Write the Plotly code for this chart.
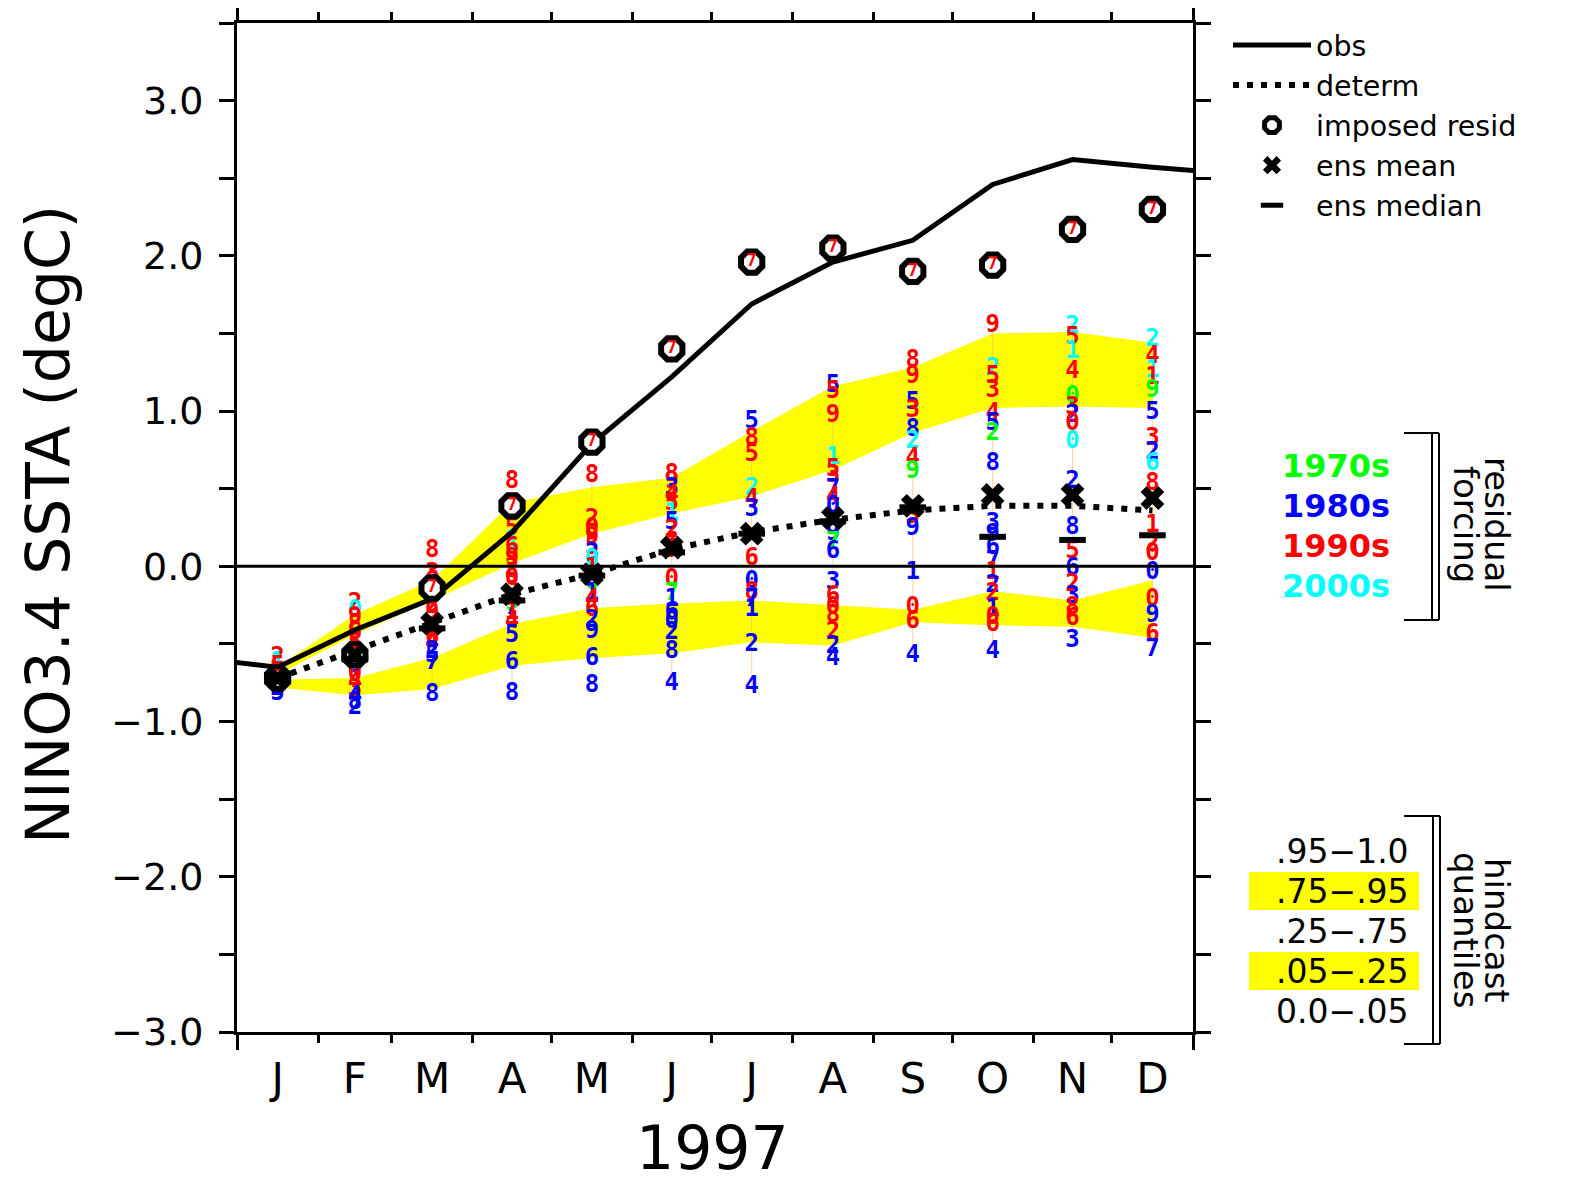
import plotly.graph_objects as go

# ---------------- data ----------------
month_labels = ["J", "F", "M", "A", "M", "J", "J", "A", "S", "O", "N", "D"]
mid_dates = ["1997-01-16 12:00", "1997-02-15", "1997-03-16 12:00", "1997-04-16",
             "1997-05-16 12:00", "1997-06-16", "1997-07-16 12:00", "1997-08-16 12:00",
             "1997-09-16", "1997-10-16 12:00", "1997-11-16", "1997-12-16 12:00"]
month_starts = ["1997-02-01", "1997-03-01", "1997-04-01", "1997-05-01", "1997-06-01",
                "1997-07-01", "1997-08-01", "1997-09-01", "1997-10-01", "1997-11-01",
                "1997-12-01"]
year_edges = ["1997-01-01", "1998-01-01"]

obs_dates = ["1996-12-16 12:00"] + mid_dates + ["1998-01-16 12:00"]
obs = [-0.59, -0.65, -0.41, -0.21, 0.22, 0.79, 1.22, 1.69, 1.96, 2.10, 2.46, 2.62, 2.57, 2.53]
determ = [-0.72, -0.54, -0.37, -0.18, -0.05, 0.11, 0.22, 0.30, 0.36, 0.39, 0.39, 0.36]
imposed = [-0.72, -0.57, -0.14, 0.39, 0.80, 1.40, 1.96, 2.05, 1.90, 1.94, 2.17, 2.30]
ens_mean = [-0.72, -0.57, -0.37, -0.18, -0.05, 0.12, 0.21, 0.31, 0.39, 0.46, 0.46, 0.44]
ens_median = [-0.72, -0.60, -0.40, -0.22, -0.06, 0.09, 0.21, 0.29, 0.38, 0.19, 0.17, 0.20]

q95 = [-0.65, -0.31, -0.09, 0.41, 0.51, 0.57, 0.87, 1.16, 1.28, 1.50, 1.51, 1.44]
q75 = [-0.70, -0.44, -0.22, 0.02, 0.21, 0.34, 0.45, 0.62, 0.86, 1.02, 1.03, 1.02]
q25 = [-0.73, -0.72, -0.59, -0.37, -0.27, -0.24, -0.22, -0.25, -0.28, -0.16, -0.22, -0.09]
q05 = [-0.78, -0.83, -0.79, -0.64, -0.59, -0.56, -0.49, -0.51, -0.36, -0.38, -0.39, -0.46]

# ensemble members (value, residual-forcing year) per month
jan_v = [-0.59, -0.62, -0.65, -0.70, -0.72, -0.75, -0.77, -0.79, -0.82]
jan_y = [1992, 2001, 1995, 1990, 1988, 1993, 1991, 1982, 1985]
feb_v = [-0.24, -0.29, -0.33, -0.38, -0.43, -0.50, -0.56, -0.64, -0.70, -0.75, -0.80, -0.84, -0.88, -0.91]
feb_y = [1992, 2000, 1999, 1998, 1996, 1995, 1991, 1983, 1990, 1994, 1993, 1984, 1988, 1982]
mar_v = [0.10, -0.05, -0.10, -0.13, -0.18, -0.26, -0.30, -0.40, -0.46, -0.50, -0.55, -0.58, -0.62, -0.83]
mar_y = [1998, 1993, 1990, 1986, 1995, 1992, 1999, 1991, 1996, 1994, 1982, 1985, 1987, 1988]
apr_v = [0.54, 0.24, 0.16, 0.12, 0.05, -0.02, -0.08, -0.13, -0.24, -0.27, -0.30, -0.36, -0.45, -0.62, -0.82]
apr_y = [1998, 1995, 2001, 1996, 1999, 1992, 1990, 1993, 1979, 1987, 1991, 1994, 1985, 1986, 1988]
may_v = [0.58, 0.30, 0.24, 0.18, 0.12, 0.08, 0.04, -0.02, -0.11, -0.18, -0.22, -0.28, -0.35, -0.42, -0.60, -0.77]
may_y = [1998, 1992, 1990, 1999, 1995, 1983, 2000, 1991, 1976, 1981, 1994, 1996, 1982, 1989, 1986, 1988]
jun_v = [0.59, 0.54, 0.50, 0.45, 0.40, 0.34, 0.28, 0.23, 0.15, 0.10, -0.09, -0.18, -0.22, -0.30, -0.36, -0.43, -0.55, -0.76]
jun_y = [1998, 1999, 1983, 1994, 1995, 2001, 1985, 1992, 1996, 1993, 1990, 1977, 1981, 1986, 1980, 1982, 1988, 1984]
jul_v = [0.93, 0.82, 0.72, 0.50, 0.43, 0.36, 0.05, -0.10, -0.17, -0.22, -0.28, -0.51, -0.78]
jul_y = [1985, 1998, 1995, 2002, 1994, 1983, 1996, 1980, 1998, 1987, 1981, 1982, 1984]
aug_v = [1.16, 1.12, 0.97, 0.70, 0.62, 0.58, 0.49, 0.44, 0.38, 0.21, 0.15, 0.09, -0.11, -0.20, -0.27, -0.32, -0.43, -0.52, -0.60]
aug_y = [1985, 1995, 1999, 2001, 1995, 1993, 1987, 1994, 1980, 1989, 1977, 1986, 1983, 1996, 1990, 1998, 1992, 1982, 1984]
sep_v = [1.32, 1.22, 1.05, 1.00, 0.88, 0.80, 0.69, 0.61, 0.32, 0.24, -0.04, -0.27, -0.36, -0.58]
sep_y = [1998, 1999, 1985, 1993, 1988, 2002, 1994, 1979, 1993, 1989, 1981, 1990, 1996, 1984]
oct_v = [1.55, 1.27, 1.22, 1.13, 0.98, 0.92, 0.85, 0.66, 0.27, 0.20, 0.12, 0.03, -0.04, -0.13, -0.18, -0.28, -0.33, -0.38, -0.55]
oct_y = [1999, 2002, 1995, 1993, 1994, 1985, 1972, 1988, 1983, 1989, 1986, 1987, 1991, 1982, 1992, 1981, 1990, 1996, 1984]
nov_v = [1.54, 1.47, 1.38, 1.25, 1.09, 1.02, 0.97, 0.92, 0.80, 0.54, 0.25, 0.09, -0.02, -0.12, -0.20, -0.27, -0.34, -0.48]
nov_y = [2002, 1995, 2001, 1994, 1970, 1993, 1982, 1990, 2000, 1982, 1988, 1995, 1986, 1992, 1983, 1998, 1996, 1983]
dec_v = [1.46, 1.35, 1.26, 1.21, 1.13, 0.99, 0.82, 0.73, 0.66, 0.53, 0.26, 0.14, 0.08, -0.04, -0.22, -0.32, -0.44, -0.54]
dec_y = [2002, 1994, 2001, 1991, 1979, 1985, 1993, 1982, 2006, 1998, 1991, 1992, 1990, 1980, 1990, 1989, 1996, 1987]

member_vals = [jan_v, feb_v, mar_v, apr_v, may_v, jun_v, jul_v, aug_v, sep_v, oct_v, nov_v, dec_v]
member_years = [jan_y, feb_y, mar_y, apr_y, may_y, jun_y, jul_y, aug_y, sep_y, oct_y, nov_y, dec_y]

decades = ["1970s", "1980s", "1990s", "2000s"]
decade_colors = ["#00ff00", "#0000ff", "#ff0000", "#00ffff"]
imposed_year = 1997

y_tickvals = [-3.0, -2.5, -2.0, -1.5, -1.0, -0.5, 0.0, 0.5, 1.0, 1.5, 2.0, 2.5, 3.0, 3.5]
y_ticktext = ["\u22123.0", "", "\u22122.0", "", "\u22121.0", "", "0.0", "", "1.0", "", "2.0", "", "3.0", ""]
quantile_labels = [".95\u22121.0", ".75\u2212.95", ".25\u2212.75", ".05\u2212.25", "0.0\u2212.05"]
quantile_highlight = [False, True, False, True, False]

# ---------------- layout helpers ----------------
OFF = 8                      # page body margin
W, H = 1589 - 2 * OFF, 1183 - 2 * OFF
L, R, T, B = 237 - OFF, 1193 - OFF, 23 - OFF, 1032 - OFF
FONT = "DejaVu Sans"


def fx(px):
    return (px - OFF - L) / (R - L)


def fy(py):
    return (B - (py - OFF)) / (B - T)


def decade_color(year):
    return decade_colors[(year // 10 - 197)]


fig = go.Figure()

# yellow quantile bands
fig.add_trace(go.Scatter(x=mid_dates, y=q75, mode="lines", line=dict(width=0, color="#ffff00"),
                         showlegend=False, hoverinfo="skip"))
fig.add_trace(go.Scatter(x=mid_dates, y=q95, mode="lines", line=dict(width=0, color="#ffff00"),
                         fill="tonexty", fillcolor="#ffff00", showlegend=False, hoverinfo="skip"))
fig.add_trace(go.Scatter(x=mid_dates, y=q05, mode="lines", line=dict(width=0, color="#ffff00"),
                         showlegend=False, hoverinfo="skip"))
fig.add_trace(go.Scatter(x=mid_dates, y=q25, mode="lines", line=dict(width=0, color="#ffff00"),
                         fill="tonexty", fillcolor="#ffff00", showlegend=False, hoverinfo="skip"))

# faint connector through each month's ensemble spread
for d, vals in zip(mid_dates, member_vals):
    fig.add_trace(go.Scatter(x=[d, d], y=[max(vals), min(vals)], mode="lines",
                             line=dict(color="rgba(255,190,120,0.7)", width=1),
                             showlegend=False, hoverinfo="skip"))

# ensemble member digits
for d, vals, yrs in zip(mid_dates, member_vals, member_years):
    fig.add_trace(go.Scatter(
        x=[d] * len(vals), y=vals, mode="text",
        text=[str(yr % 10) for yr in yrs],
        textposition="middle center",
        textfont=dict(family="DejaVu Sans Mono", size=24, weight="bold",
                      color=[decade_color(yr) for yr in yrs]),
        showlegend=False, hoverinfo="skip"))

# legend + main lines
fig.add_trace(go.Scatter(x=obs_dates, y=obs, mode="lines", name="obs",
                         line=dict(color="black", width=5)))
fig.add_trace(go.Scatter(x=mid_dates, y=determ, mode="lines", name="determ",
                         line=dict(color="black", width=6, dash="6px,8px")))
fig.add_trace(go.Scatter(x=mid_dates, y=imposed, mode="markers", name="imposed resid",
                         marker=dict(symbol="octagon", size=23, color="white",
                                     line=dict(color="black", width=6))))
fig.add_trace(go.Scatter(x=mid_dates, y=imposed, mode="text",
                         text=[str(imposed_year % 10)] * len(imposed),
                         textfont=dict(family="DejaVu Sans Mono", size=17, weight="bold",
                                       color=decade_color(imposed_year)),
                         showlegend=False, hoverinfo="skip"))
fig.add_trace(go.Scatter(x=mid_dates, y=ens_mean, mode="markers", name="ens mean",
                         marker=dict(symbol="x", size=21, color="black", line=dict(width=0))))
fig.add_trace(go.Scatter(x=mid_dates, y=ens_median, mode="markers", name="ens median",
                         marker=dict(symbol="line-ew", size=19, color="black",
                                     line=dict(color="black", width=6))))

# invisible trace to activate the month-label axis
fig.add_trace(go.Scatter(x=mid_dates, y=ens_mean, xaxis="x2", mode="markers",
                         marker=dict(opacity=0), showlegend=False, hoverinfo="skip"))

shapes = []
# zero line
shapes.append(dict(type="line", xref="paper", yref="y", x0=0, x1=1, y0=0, y1=0,
                   line=dict(color="black", width=3), layer="above"))


def bracket(top, bottom, xa, xv1, xv2):
    out = []
    for yy in (top, bottom):
        out.append(dict(type="line", xref="paper", yref="paper", x0=fx(xa), x1=fx(xv2),
                        y0=fy(yy), y1=fy(yy), line=dict(color="black", width=2)))
    for xv in (xv1, xv2):
        out.append(dict(type="line", xref="paper", yref="paper", x0=fx(xv), x1=fx(xv),
                        y0=fy(top), y1=fy(bottom), line=dict(color="black", width=2)))
    return out


shapes += bracket(433, 620, 1404, 1432, 1439)
shapes += bracket(816, 1044, 1404, 1433, 1440)

annotations = []
# decade labels
for i, (lab, col) in enumerate(zip(decades, decade_colors)):
    annotations.append(dict(text=lab, xref="paper", yref="paper", x=fx(1392), y=fy(466 + 40 * i),
                            xanchor="right", yanchor="middle", showarrow=False,
                            font=dict(family=FONT, size=32, color=col, weight="bold")))
# quantile labels
for i, (lab, hl) in enumerate(zip(quantile_labels, quantile_highlight)):
    yc = 851 + 40 * i
    if hl:
        shapes.append(dict(type="rect", xref="paper", yref="paper", x0=fx(1249), x1=fx(1419),
                           y0=fy(yc - 19), y1=fy(yc + 19), fillcolor="#ffff00",
                           line=dict(width=0), layer="above"))
    annotations.append(dict(text=lab, xref="paper", yref="paper", x=fx(1411), y=fy(yc),
                            xanchor="right", yanchor="middle", showarrow=False,
                            font=dict(family=FONT, size=33, color="black")))

for txt, xc, yc in [("residual", 1497, 524), ("forcing", 1466, 524),
                    ("hindcast", 1497, 930), ("quantiles", 1466, 930)]:
    annotations.append(dict(text=txt, xref="paper", yref="paper", x=fx(xc), y=fy(yc),
                            xanchor="center", yanchor="middle", textangle=90, showarrow=False,
                            font=dict(family=FONT, size=34, color="black")))

annotations.append(dict(text="NINO3.4 SSTA (degC)", xref="paper", yref="paper",
                        x=fx(48), y=fy(525), xanchor="center", yanchor="middle",
                        textangle=-90, showarrow=False,
                        font=dict(family=FONT, size=60, color="black")))
annotations.append(dict(text="1997", xref="paper", yref="paper", x=fx(712), y=fy(1148),
                        xanchor="center", yanchor="middle", showarrow=False, height=52,
                        font=dict(family=FONT, size=60, color="black")))

fig.update_layout(
    width=W, height=H,
    margin=dict(l=L, r=W - R, t=T, b=H - B, pad=0, autoexpand=False),
    paper_bgcolor="white", plot_bgcolor="white",
    font=dict(family=FONT, color="black"),
    showlegend=True,
    legend=dict(x=fx(1228), y=fy(20), xanchor="left", yanchor="top",
                traceorder="normal",
                font=dict(family=FONT, size=28.5, color="black"),
                bgcolor="rgba(0,0,0,0)", borderwidth=0, tracegroupgap=0,
                itemwidth=78),
    xaxis=dict(type="date", range=year_edges, showgrid=False, zeroline=False,
               showline=True, linewidth=3, linecolor="black", mirror="ticks",
               tickmode="array", tickvals=year_edges, ticks="outside", ticklen=15,
               tickwidth=3, tickcolor="black", showticklabels=False,
               minor=dict(tickmode="array", tickvals=month_starts, ticks="outside",
                          ticklen=8, tickwidth=3, tickcolor="black", showgrid=False)),
    xaxis2=dict(type="date", range=year_edges, overlaying="x", side="bottom", anchor="y",
                showgrid=False, zeroline=False, showline=False,
                tickmode="array", tickvals=mid_dates, ticktext=month_labels,
                ticks="", ticklabelstandoff=18,
                tickfont=dict(family=FONT, size=42, color="black")),
    yaxis=dict(range=[-3.0, 3.5], showgrid=False, zeroline=False,
               showline=True, linewidth=3, linecolor="black", mirror="ticks",
               tickmode="array", tickvals=y_tickvals, ticktext=y_ticktext,
               ticks="outside", ticklen=15, tickwidth=3, tickcolor="black",
               ticklabelstandoff=8,
               tickfont=dict(family=FONT, size=38, color="black")),
    shapes=shapes,
    annotations=annotations,
)

fig.write_html("out.html")
